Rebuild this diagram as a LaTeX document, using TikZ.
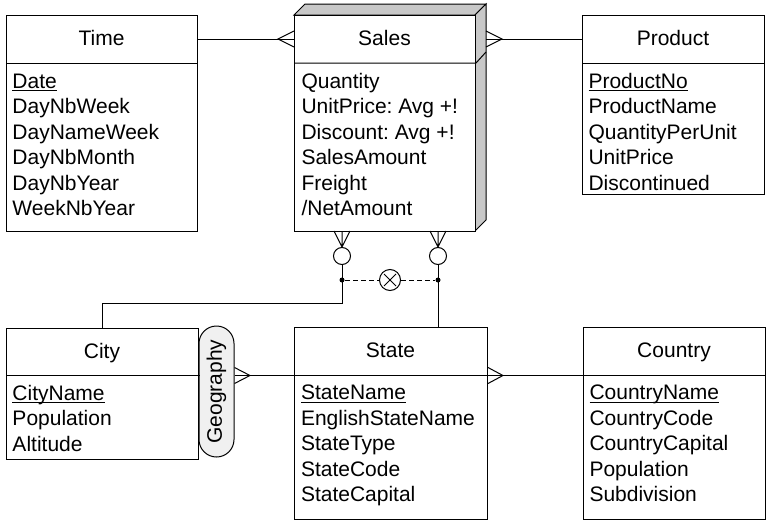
\documentclass[tikz,border=0pt]{standalone}
\usepackage{fontspec}
\setmainfont{Liberation Sans}
\frenchspacing
\newcommand\keyattr[1]{\setbox0\hbox{#1}\rlap{\rule[-3pt]{\wd0}{0.9pt}}\box0}
\definecolor{facegray}{HTML}{C8C8C8}
\definecolor{pillgray}{HTML}{F0F0F0}
\begin{document}
\begin{tikzpicture}[x=1pt,y=-1pt, line width=1pt, line join=miter,
  ent/.style={draw, line width=1pt, inner sep=0, anchor=north west},
  hdr/.style={anchor=base, inner sep=0, font=\fontsize{21}{25.5}\selectfont},
  attrs/.style={anchor=base west, inner sep=0, align=left, font=\fontsize{21}{25.5}\selectfont},
  ring/.style={circle, draw, fill=white, inner sep=0, minimum size=17pt},
  joint/.style={circle, fill=black, inner sep=0, minimum size=5pt},
  dashline/.style={dash pattern=on 5pt off 3pt},
]
\useasboundingbox (0,0) rectangle (768,522);

% ---------- Time ----------
\node[ent, minimum width=191pt, minimum height=216pt] (time) at (6,15) {};
\draw (time.west |- 0,63) -- (time.east |- 0,63);
\node[hdr] (timeH) at (101.5,45.5) {Time};
% base anchor of a multi-line node = baseline of its last line
\node[attrs] (timeA) at (12,215.5) {\keyattr{Date}\\DayNbWeek\\DayNameWeek\\DayNbMonth\\DayNbYear\\WeekNbYear};

% ---------- Sales (3D) ----------
\filldraw[fill=facegray] (294,15) -- (305,4) -- (486,4) -- (475,15) -- cycle;
\filldraw[fill=facegray] (475,15) -- (486,4) -- (486,220) -- (475,231) -- cycle;
\node[ent, fill=white, minimum width=181pt, minimum height=216pt] (sales) at (294,15) {};
\draw (sales.west |- 0,63) -- (sales.east |- 0,63) -- (486,52);
\node[hdr] (salesH) at (384.5,45.5) {Sales};
\node[attrs] (salesA) at (301,215.5) {Quantity\\UnitPrice: Avg +!\\Discount: Avg +!\\SalesAmount\\Freight\\/NetAmount};

% ---------- Product ----------
\node[ent, minimum width=182pt, minimum height=179pt] (product) at (582,15) {};
\draw (product.west |- 0,63) -- (product.east |- 0,63);
\node[hdr] (productH) at (673,45.5) {Product};
\node[attrs] (productA) at (588,190) {\keyattr{ProductNo}\\ProductName\\QuantityPerUnit\\UnitPrice\\Discontinued};

% ---------- City ----------
\node[ent, minimum width=192pt, minimum height=131pt] (city) at (6,328) {};
\draw (city.west |- 0,375.5) -- (city.east |- 0,375.5);
\node[hdr] (cityH) at (102,358) {City};
\node[attrs] (cityA) at (12,451) {\keyattr{CityName}\\Population\\Altitude};

% ---------- State ----------
\node[ent, minimum width=193pt, minimum height=192pt] (state) at (294,327) {};
\draw (state.west |- 0,375.5) -- (state.east |- 0,375.5);
\node[hdr] (stateH) at (390.5,357.5) {State};
\node[attrs] (stateA) at (300.5,501.5) {\keyattr{StateName}\\EnglishStateName\\StateType\\StateCode\\StateCapital};

% ---------- Country ----------
\node[ent, minimum width=182pt, minimum height=192pt] (country) at (583,327) {};
\draw (country.west |- 0,375.5) -- (country.east |- 0,375.5);
\node[hdr] (countryH) at (674,357.5) {Country};
\node[attrs] (countryA) at (589,501.5) {\keyattr{CountryName}\\CountryCode\\CountryCapital\\Population\\Subdivision};

% ---------- Geography pill ----------
\node[draw, fill=pillgray, rotate=90, minimum width=131pt, minimum height=35pt,
      rounded corners=17.5pt, inner sep=0, font=\fontsize{21}{25.5}\selectfont]
      (geo) at (216.5,391.5) {Geography};

% ---------- Time -- Sales ----------
\coordinate (tsA) at (278,39);
\draw (time.east |- 0,39) -- (sales.west |- 0,39);
\draw (sales.west |- 0,31) -- (tsA) -- (sales.west |- 0,47);

% ---------- Sales -- Product ----------
\coordinate (spA) at (502,39);
\coordinate (spS) at (486,39);
\draw (spS) -- (product.west |- 0,39);
\draw (486,31) -- (spA) -- (486,47);

% ---------- Sales -- City / State (exclusive) ----------
\coordinate (f1) at (342,247);
\coordinate (f2) at (438,247);
\draw (334,231) -- (f1) -- (350,231) (342,231) -- (f1);
\draw (430,231) -- (f2) -- (446,231) (438,231) -- (f2);
\node[ring] (o1) at (342,256) {};
\node[ring] (o2) at (438,256) {};
\draw (f1) -- (o1.north);
\draw (f2) -- (o2.north);
\node[joint] (d1) at (342,280) {};
\node[joint] (d2) at (438,280) {};
\node[circle, draw, inner sep=0, minimum size=21pt] (xor) at (390,280) {};
\draw (384,274) -- (396,286) (384,286) -- (396,274);
\draw (o1.south) -- (d1.center);
\draw (o2.south) -- (d2.center);
\draw[dashline] (d1) -- (xor.west);
\draw[dashline] (xor.east) -- (d2);
\coordinate (bend) at (342,303);
\draw (d1.center) -- (bend) -| (city.north);
\draw (d2.center) -- (d2 |- state.north);

% ---------- City -- Geography -- State ----------
\coordinate (cgA) at (250,375.5);
\draw (city.east |- 0,375.5) -- (geo.north |- 0,375.5);
\draw (geo.south |- 0,375.5) -- (state.west |- 0,375.5);
\draw (geo.south |- 0,367.5) -- (cgA) -- (geo.south |- 0,383.5);

% ---------- State -- Country ----------
\coordinate (scA) at (503,375.5);
\draw (state.east |- 0,375.5) -- (country.west |- 0,375.5);
\draw (state.east |- 0,367.5) -- (scA) -- (state.east |- 0,383.5);
\end{tikzpicture}
\end{document}
